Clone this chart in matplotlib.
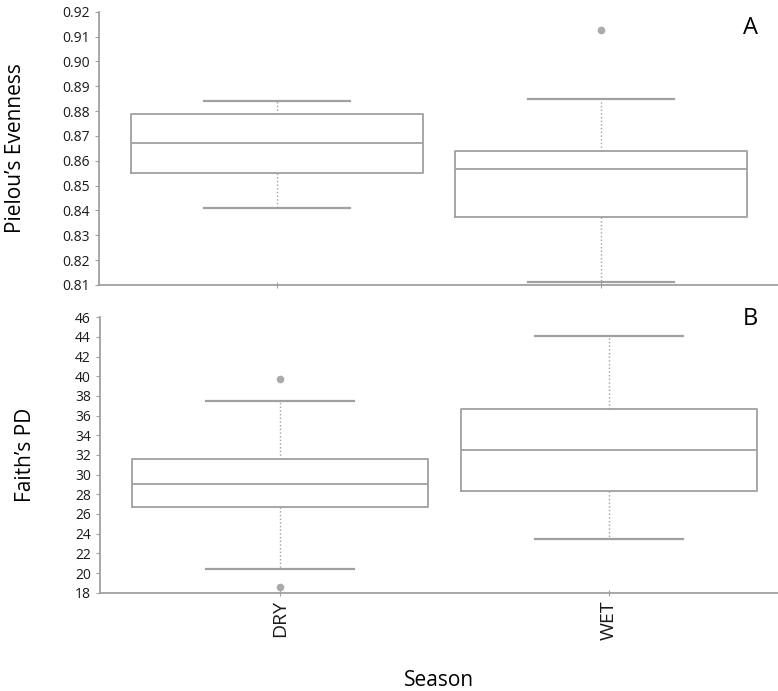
import matplotlib.pyplot as plt

plt.rcParams['font.family'] = ['Open Sans', 'DejaVu Sans']

# DATA
seasons = ["DRY", "WET"]

# Pielou's evenness: lower cap, Q1, median, Q3, upper cap, outliers
even_low    = [0.841, 0.811]
even_q1     = [0.855, 0.8375]
even_med    = [0.867, 0.8565]
even_q3     = [0.879, 0.864]
even_high   = [0.884, 0.885]
even_fliers = [[], [0.9125]]

# Faith's PD
pd_low    = [20.4, 23.5]
pd_q1     = [26.7, 28.3]
pd_med    = [29.0, 32.5]
pd_q3     = [31.6, 36.7]
pd_high   = [37.5, 44.1]
pd_fliers = [[39.7, 18.6], []]

GREY = '#a0a0a0'


def make_stats(low, q1, med, q3, high, fliers):
    return [dict(whislo=low[i], q1=q1[i], med=med[i], q3=q3[i],
                 whishi=high[i], fliers=fliers[i], label=seasons[i])
            for i in range(len(seasons))]


def draw(ax, stats):
    ax.bxp(stats, positions=range(len(stats)), widths=0.9, patch_artist=False,
           boxprops=dict(color=GREY, linewidth=1.3),
           medianprops=dict(color=GREY, linewidth=1.3),
           whiskerprops=dict(color=GREY, linewidth=1.0, linestyle=':'),
           capprops=dict(color=GREY, linewidth=1.6),
           capwidths=0.45,
           flierprops=dict(marker='o', markersize=4.5,
                           markerfacecolor='#aaaaaa', markeredgecolor='#aaaaaa'))
    for s in ['top', 'right']:
        ax.spines[s].set_visible(False)
    for s in ['left', 'bottom']:
        ax.spines[s].set_color(GREY)
        ax.spines[s].set_linewidth(1.3)
    ax.tick_params(axis='y', colors=GREY, labelcolor='#1a1a1a', labelsize=10,
                   length=3, width=0.8)
    ax.tick_params(axis='x', colors=GREY, labelcolor='#1a1a1a',
                   direction='inout', length=4, width=0.8)


fig = plt.figure(figsize=(7.78, 6.91), dpi=100)

# Panel A
ax1 = fig.add_axes([0.1273, 0.5876, 0.8727, 0.3954])
draw(ax1, make_stats(even_low, even_q1, even_med, even_q3, even_high, even_fliers))
ax1.set_xlim(-0.549, 1.546)
ax1.set_ylim(0.81, 0.92)
ax1.set_yticks([0.81 + 0.01 * i for i in range(12)])
ax1.set_yticklabels([f"{0.81 + 0.01 * i:.2f}" for i in range(12)])
ax1.set_xticklabels([])
ax1.set_ylabel("Pielou’s Evenness", fontsize=15, labelpad=26)
ax1.text(0.959, 0.985, "A", transform=ax1.transAxes, fontsize=17,
         ha='center', va='top')

# Panel B
ax2 = fig.add_axes([0.1285, 0.1423, 0.8715, 0.3985])
draw(ax2, make_stats(pd_low, pd_q1, pd_med, pd_q3, pd_high, pd_fliers))
ax2.set_xlim(-0.547, 1.514)
ax2.set_ylim(18, 46)
ax2.set_yticks(range(18, 47, 2))
ax2.set_xticklabels(seasons, rotation=90, fontsize=14)
ax2.set_ylabel("Faith’s PD", fontsize=15, labelpad=28)
ax2.set_xlabel("Season", fontsize=15, labelpad=22)
ax2.text(0.959, 1.037, "B", transform=ax2.transAxes, fontsize=17,
         ha='center', va='top')

fig.savefig("out.png", dpi=100)
